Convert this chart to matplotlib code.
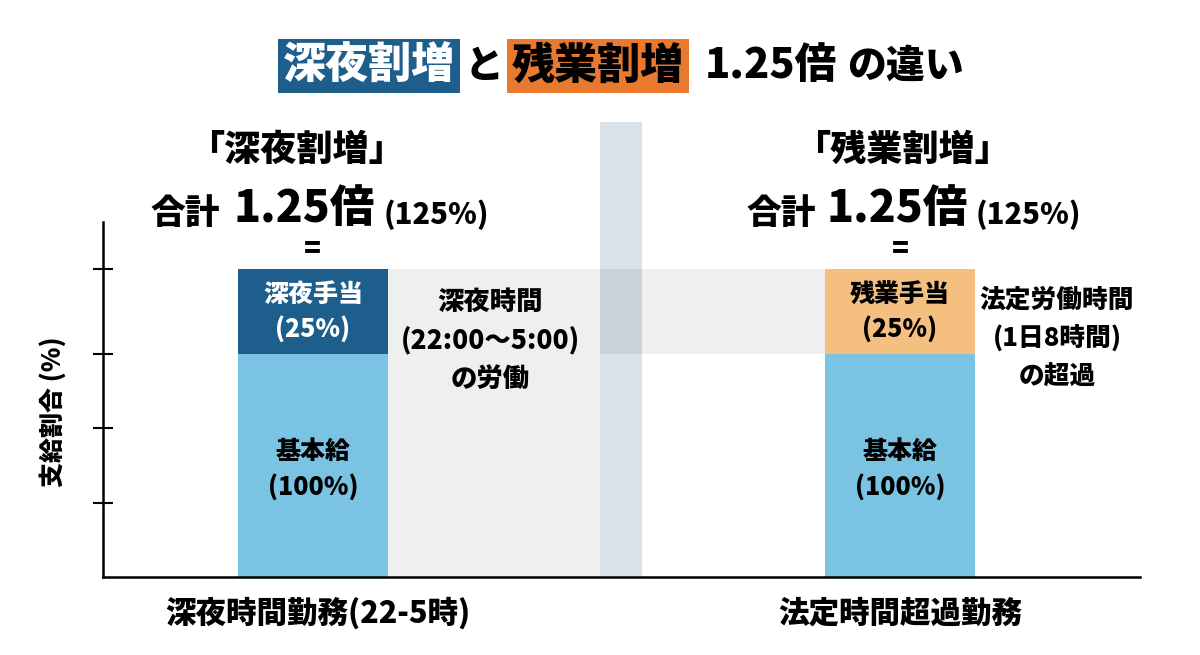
import numpy as np
import matplotlib.pyplot as plt
from matplotlib.patches import Rectangle

plt.rcParams['font.family'] = ['Noto Sans CJK JP', 'DejaVu Sans']
plt.rcParams['font.weight'] = 'heavy'
plt.rcParams['axes.labelweight'] = 'heavy'

# ── data ──────────────────────────────────────────────────────────────────────
categories = ['深夜時間勤務(22-5時)', '法定時間超過勤務']
base_pay = [100, 100]          # 基本給 (%)
premium = [25, 25]             # 手当 (%)
base_labels = ['基本給\n(100%)', '基本給\n(100%)']
premium_labels = ['深夜手当\n(25%)', '残業手当\n(25%)']
notes = ['深夜時間\n(22:00〜5:00)\nの労働', '法定労働時間\n(1日8時間)\nの超過']
headings = ['「深夜割増」', '「残業割増」']
tick_values = [125, 100, 200 / 3, 100 / 3]

# ── colours ───────────────────────────────────────────────────────────────────
DARK_BLUE = '#1e5e8c'
LIGHT_BLUE = '#7bc3e3'
ORANGE = '#e8792f'
LIGHT_ORANGE = '#f5c07f'
BAND = '#efefef'
SEP = '#dae2e9'
SEP_DARK = '#c8d2db'

W, H = 1200, 655


def px(x, y):
    """pixel position -> figure fraction"""
    return x / W, 1 - y / H


fig = plt.figure(figsize=(12, 6.55), dpi=100)
ax = fig.add_axes([103 / W, 1 - 577 / H, 1037 / W, 467 / H])

# schematic y scale: 0-100 is compressed, 100-125 is stretched
vals_k = [0, 100, 125, 300]
pix_k = [0, 223, 308, 903]
ax.set_yscale('function', functions=(lambda v: np.interp(v, vals_k, pix_k),
                                     lambda p: np.interp(p, pix_k, vals_k)))
ax.set_ylim(0, 171.8)
ax.set_xlim(-0.3578, 1.4089)

x = np.arange(len(categories))
bw = 0.2555
edge_l = x[0] + bw / 2
edge_r = x[1] - bw / 2
sep_x, sep_w = 0.4889, 0.0716

# background bands
ax.add_patch(Rectangle((edge_l, 0), sep_x - edge_l, 125, color=BAND, lw=0, zorder=0))
ax.add_patch(Rectangle((sep_x, 100), edge_r - sep_x, 25, color=BAND, lw=0, zorder=0))
ax.add_patch(Rectangle((sep_x, 0), sep_w, 168.2, color=SEP, lw=0, zorder=1))
ax.add_patch(Rectangle((sep_x, 100), sep_w, 25, color=SEP_DARK, lw=0, zorder=1))

top_colors = [DARK_BLUE, LIGHT_ORANGE]
top_text = ['white', 'black']
ax.bar(x, base_pay, width=bw, color=LIGHT_BLUE, zorder=2)
ax.bar(x, premium, bottom=base_pay, width=bw, color=top_colors, zorder=2)

for i in range(len(categories)):
    ax.text(x[i], base_pay[i] / 2 - 1.5, base_labels[i], ha='center', va='center',
            fontsize=18, linespacing=1.4, zorder=3)
    ax.text(x[i], base_pay[i] + premium[i] / 2, premium_labels[i], ha='center',
            va='center', fontsize=18, color=top_text[i], linespacing=1.35, zorder=3)

ax.text(0.3015, 104.1, notes[0], ha='center', va='center', fontsize=19, linespacing=1.45)
ax.text(1.2675, 104.6, notes[1], ha='center', va='center', fontsize=18.5, linespacing=1.55)

# axes styling
for s in ['top', 'right']:
    ax.spines[s].set_visible(False)
ax.spines['left'].set_bounds(0, 138.8)
ax.spines['left'].set_linewidth(1.8)
ax.spines['bottom'].set_linewidth(1.8)
ax.set_yticks(tick_values)
ax.set_yticklabels([])
ax.tick_params(axis='y', direction='inout', length=15, width=1.5)
ax.set_xticks([])
ax.set_ylabel('支給割合 (%)', fontsize=18)
ax.yaxis.set_label_coords(-0.036, 0.353)

for i, cx in enumerate([318, 900]):
    fig.text(*px(cx, 613), categories[i], ha='center', va='center', fontsize=22)

# ── headings above bars ───────────────────────────────────────────────────────
for hx, h, (c1, c2, c3) in zip([296, 902], headings,
                               [(185, 304, 436), (781, 897, 1028)]):
    fig.text(*px(hx, 150), h, ha='center', va='center', fontsize=26)
    fig.text(*px(c1, 213), '合計', ha='center', va='center', fontsize=25)
    fig.text(*px(c2, 209), '1.25倍', ha='center', va='center', fontsize=32)
    fig.text(*px(c3, 215), '(125%)', ha='center', va='center', fontsize=21)
for ex in [312, 900]:
    fig.text(*px(ex, 248), '=', ha='center', va='center', fontsize=20)

# ── title ─────────────────────────────────────────────────────────────────────
fig.text(*px(369, 66), '深夜割増', ha='center', va='center', fontsize=31,
         color='white', bbox=dict(boxstyle='square,pad=0.12', fc=DARK_BLUE, ec='none'))
fig.text(*px(484, 66), 'と', ha='center', va='center', fontsize=28)
fig.text(*px(598, 66), '残業割増', ha='center', va='center', fontsize=31,
         color='black', bbox=dict(boxstyle='square,pad=0.12', fc=ORANGE, ec='none'))
fig.text(*px(771, 66), '1.25倍', ha='center', va='center', fontsize=30)
fig.text(*px(905, 66), 'の違い', ha='center', va='center', fontsize=28)

fig.savefig('out.png', dpi=100)
